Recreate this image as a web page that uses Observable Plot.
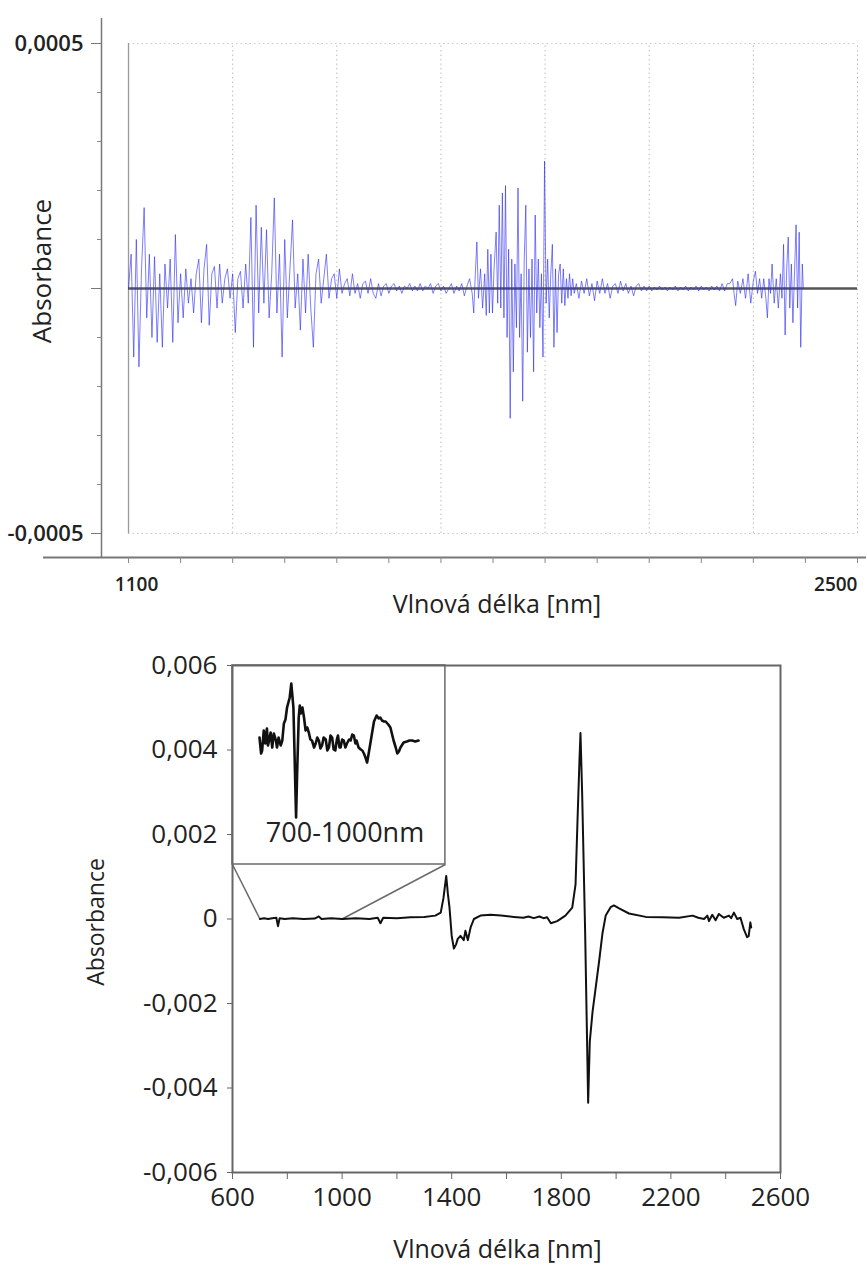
<!DOCTYPE html>
<html><head><meta charset="utf-8">
<script src="https://cdn.jsdelivr.net/npm/d3@7"></script>
<script src="https://cdn.jsdelivr.net/npm/@observablehq/plot@0.6"></script>
<style>
html,body{margin:0;padding:0;background:#fff;}
#wrap{position:relative;width:867px;height:1267px;overflow:hidden;background:#fff;}
#wrap svg{position:absolute;max-width:none;}
</style></head><body><div id="wrap"></div>
<script>
// ---------- TOP PANEL DATA: [wavelength nm, absorbance x1e-5] ----------
const topSpectrum = [
[1100,0],[1105,7],[1110,-14],[1115,10],[1120,-16],[1125,4],[1130,16.5],[1135,-6],[1140,7],[1145,-10],
[1150,6.5],[1155,-11],[1160,3],[1165,-12],[1170,5],[1175,-4],[1180,6],[1185,-11],[1190,11],[1195,-7],
[1200,3],[1205,-6],[1210,4],[1215,-3],[1220,2],[1225,-5],[1230,3],[1235,6],[1240,-7],[1245,4],
[1250,9],[1255,-7.5],[1260,3],[1265,4.5],[1270,-4],[1275,5],[1280,-3],[1285,2],[1290,4],[1295,-2],
[1300,3],[1305,-9],[1310,2],[1315,3.5],[1320,-4],[1325,5],[1330,-3],[1335,14.5],[1340,-12],[1345,17],
[1350,-5],[1355,12.5],[1360,-3],[1365,12],[1370,-6],[1375,3],[1380,18.5],[1385,-5],[1390,7],[1395,-14],
[1400,10],[1405,-6],[1410,4],[1415,14],[1420,-4],[1425,3],[1430,-8.5],[1435,6],[1440,-5],[1445,7],
[1450,-4],[1455,-12],[1460,3],[1465,6],[1470,-3],[1475,2],[1480,7],[1485,-2],[1490,2],[1495,3],
[1500,-2],[1505,4],[1510,-1],[1515,1],[1520,2],[1525,-1.5],[1530,3],[1535,-1],[1540,1],[1545,-2],
[1550,1],[1555,1.5],[1560,-1],[1565,2],[1570,-1],[1575,-2],[1580,1],[1585,-1.5],[1590,0.5],[1595,1],
[1600,-1],[1605,0.5],[1610,1],[1615,-0.5],[1620,0.5],[1625,-1],[1630,0.5],[1635,0],[1640,1],[1645,-0.5],
[1650,0.5],[1655,-0.5],[1660,1],[1665,-0.5],[1670,0.5],[1675,0],[1680,1],[1685,-1],[1690,0.5],[1695,1],
[1700,-0.5],[1705,0.5],[1710,-1],[1715,0],[1720,1],[1725,-1],[1730,0.5],[1735,-0.5],[1740,1],[1745,-1.5],
[1750,0.5],[1755,2],[1760,-1],[1763,-5],[1766,3],[1769,9.5],[1772,-2],[1776,4],[1780,-4],[1784,3],
[1787,-5.5],[1790,8],[1793,-5],[1796,7],[1799,-5],[1802,4],[1806,11.5],[1809,-3],[1812,17],[1815,-4],
[1818,19.5],[1821,-6],[1824,21],[1827,-10],[1830,8],[1833,-26.5],[1836,6],[1839,-17],[1842,5],[1845,-8],
[1848,20.5],[1851,-10],[1854,3],[1857,-23],[1860,6],[1863,17],[1866,-13],[1869,4],[1872,-10],[1875,6],
[1878,-17],[1881,15],[1884,-5],[1887,6],[1890,-8],[1893,3],[1896,-14],[1899,26],[1902,-3],[1905,6],
[1908,-6],[1911,3],[1914,9],[1917,-12],[1920,4],[1923,-9],[1926,3],[1929,5],[1932,-3],[1935,4],
[1938,-3.5],[1941,2],[1944,-2],[1947,3],[1950,-1.5],[1953,2],[1956,-1],[1960,1],[1965,-2],[1970,1.5],
[1975,-1],[1980,2],[1985,-1.5],[1990,1],[1995,-2.5],[2000,1.5],[2005,-1],[2010,2],[2015,-1],[2020,1],
[2025,-2],[2030,0.5],[2035,1],[2040,-1],[2045,1.5],[2050,-0.5],[2055,1],[2060,-1],[2065,0.5],[2070,-1.5],
[2075,0.5],[2080,1],[2085,-0.5],[2090,0.5],[2095,-0.5],[2100,0.5],[2105,-0.5],[2110,0.3],[2115,-0.3],[2120,0.5],
[2125,-0.3],[2130,0.3],[2135,-0.5],[2140,0.3],[2145,-0.3],[2150,0.5],[2155,-0.5],[2160,0.3],[2165,-0.3],[2170,0.5],
[2175,-0.5],[2180,0.3],[2185,-0.3],[2190,0.5],[2195,-0.5],[2200,0.5],[2205,-0.3],[2210,0.3],[2215,-0.5],[2220,0.5],
[2225,-0.3],[2230,0.5],[2235,-0.5],[2240,1],[2245,-0.5],[2250,1],[2255,1],[2260,2],[2263,-1],[2266,-3.5],
[2270,1.5],[2275,-1],[2280,2],[2285,-2],[2290,3],[2295,-3],[2300,1.5],[2304,3.5],[2308,-1],[2312,2],
[2316,-2],[2320,2],[2324,-2],[2327,-6],[2330,2],[2333,-1],[2336,5],[2340,-3],[2344,2],[2348,-4],
[2352,3],[2355,-2],[2358,9],[2361,-9.5],[2364,4],[2367,10.5],[2370,-4],[2373,5],[2376,-7],[2379,3],
[2382,13],[2385,-4],[2388,11.5],[2391,-12],[2394,5],[2396,0]
];
const topYMajor = [-0.0005, 0, 0.0005];
const topYMinor = [-0.0004, -0.0003, -0.0002, -0.0001, 0.0001, 0.0002, 0.0003, 0.0004];
const topXTicks = [1100,1200,1300,1400,1500,1600,1700,1800,1900,2000,2100,2200,2300,2400,2500];
const topXGrid = [1300,1500,1700,1900,2100,2300,2500];
const topXLabels = [1100, 2500];

// ---------- BOTTOM PANEL DATA: [wavelength nm, absorbance] ----------
const mainSpectrum = [
[700,0],[715,0.00002],[730,0],[745,0.00002],[760,0.00003],[766,-0.00017],[772,0.00002],[790,0],[820,0.00002],[860,0],
[900,0.00001],[915,0.00006],[925,0],[960,0.00002],[1000,0],[1050,0.00002],[1100,0],[1130,0.00003],[1140,-0.0001],[1150,0.00003],
[1200,0.00002],[1250,0.00004],[1300,0.00005],[1340,0.00008],[1360,0.00015],[1370,0.0005],[1380,0.00102],[1386,0.0006],[1392,0.00027],[1400,-0.0004],
[1408,-0.0007],[1416,-0.0006],[1422,-0.00047],[1432,-0.0004],[1444,-0.0005],[1450,-0.00028],[1459,-0.0005],[1469,-0.0002],[1481,0],[1505,0.00008],
[1542,0.0001],[1580,0.00008],[1627,0.00005],[1662,0.00003],[1680,0.00006],[1700,0.00002],[1720,0.00006],[1735,0.00002],[1748,0.00004],[1762,-0.0001],
[1785,-0.00005],[1815,0.00008],[1840,0.00027],[1852,0.00082],[1859,0.0023],[1866,0.0037],[1870,0.0044],[1876,0.003],[1880,0.0018],[1887,-0.0003],
[1893,-0.0025],[1898,-0.00435],[1904,-0.0029],[1914,-0.0022],[1926,-0.0016],[1938,-0.001],[1950,-0.00035],[1962,0.00008],[1980,0.00028],[1992,0.00032],
[2011,0.00025],[2047,0.00013],[2108,0.00005],[2170,0.00004],[2230,0.00003],[2279,0.00008],[2300,0.00003],[2321,0],[2333,0.00008],[2339,-0.00005],
[2351,0.0001],[2363,-0.00003],[2375,0.00012],[2393,0.00003],[2412,0.00008],[2420,0.00002],[2430,0.00015],[2442,0],[2454,0.00003],[2466,-0.00024],
[2478,-0.00043],[2484,-0.0004],[2490,-0.00008],[2493,-0.0002]
];
// inset 700-1000 nm, relative absorbance (x1e-4)
const insetSpectrum = [
[700,0.2],[703,-0.6],[705,-0.45],[708,0.55],[711,-0.1],[714,0.65],[716,-0.2],[718,0.05],[721,0.45],[724,-0.3],
[727,0.4],[731,0.05],[733,-0.3],[736,0.2],[740,-0.2],[743,0.05],[746,0.9],[749,1.1],[752,1.7],[757,2.2],
[760,2.9],[764,1.7],[767,-1.6],[769,-3.8],[771,-1.6],[774,1.2],[776,1.8],[778,1.4],[781,1.7],[784,1.2],
[787,0.55],[790,0.7],[793,0.45],[796,0.1],[799,0.05],[803,-0.3],[806,-0.1],[809,0.2],[812,0.05],[815,-0.35],
[818,-0.2],[821,0.2],[825,0.1],[828,-0.45],[831,-0.3],[834,0.3],[837,0.2],[840,-0.4],[843,-0.45],[846,0.1],
[848,0.3],[851,-0.3],[853,-0.3],[856,0.1],[859,0.05],[862,-0.3],[865,-0.1],[869,0.1],[872,0.05],[875,0.35],
[878,0.3],[881,-0.1],[883,0.05],[887,-0.3],[891,-0.4],[894,-0.45],[897,-0.6],[900,-0.8],[903,-1.05],[906,-0.6],
[911,0.2],[916,1.0],[921,1.3],[925,1.15],[928,1.2],[931,1.05],[935,1.0],[938,1.0],[943,0.85],[947,0.7],
[953,0.05],[957,-0.3],[960,-0.6],[963,-0.5],[966,-0.3],[972,-0.05],[978,0.0],[983,0.05],[988,0.05],[994,0.0],[1000,0.05]
];
const insetRange = [700, 1000];
const insetLabel = ["700-1000nm"];
const insetBox = [{x1: 600, x2: 1377, y1: 0.00129, y2: 0.006}];
const insetLinks = [{x1: 600, y1: 0.00129, x2: 700, y2: 0}, {x1: 1377, y1: 0.00129, x2: 1000, y2: 0}];
const bottomYTicks = [-0.006, -0.004, -0.002, 0, 0.002, 0.004, 0.006];
const bottomXLabels = [600, 1000, 1400, 1800, 2200, 2600];
const bottomXMinor = [800, 1200, 1600, 2000, 2400];
const xTitle = "Vlnová délka [nm]";
const yTitle = "Absorbance";

const wrap = document.getElementById("wrap");
const comma = (d, n) => d === 0 ? "0" : d.toFixed(n).replace(".", ",");

// ---------- TOP PANEL ----------
const topPlot = Plot.plot({
  width: 867, height: 625,
  marginLeft: 101, marginRight: 1, marginTop: 18, marginBottom: 68,
  x: {domain: [1048.1, 2517.3]},
  y: {domain: [-0.000549, 0.000551]},
  style: {fontFamily: "'Open Sans',sans-serif", background: "white", color: "#333"},
  marks: [
    Plot.ruleX(topXGrid, {y1: -0.0005, y2: 0.0005, stroke: "#bdbdbd", strokeDasharray: "1.5,3"}),
    Plot.ruleY([-0.0005, 0.0005], {x1: 1100, x2: 2500, stroke: "#c8c8c8", strokeDasharray: "1.5,3"}),
    Plot.ruleX([1100], {y1: -0.0005, y2: 0.0005, stroke: "#9a9a9a", strokeWidth: 1.3}),
    Plot.ruleY([0], {x1: 1100, x2: 2500, stroke: "#555", strokeWidth: 2.5}),
    Plot.line(topSpectrum, {x: d => d[0], y: d => d[1] * 1e-5, stroke: "#2a2af5", strokeWidth: 1, strokeOpacity: 0.6}),
    Plot.ruleX([1048.1], {stroke: "#777", strokeWidth: 1.5}),
    Plot.ruleY([-0.000549], {x1: 936.8, x2: 2517.3, stroke: "#777", strokeWidth: 2}),
    Plot.axisY({ticks: topYMajor, tickSize: 10, tickPadding: 8, tickFormat: d => d === 0 ? "" : comma(d, 4), stroke: "#777", fill: "#222", fontSize: 22, fontWeight: 600, label: null}),
    Plot.axisY({ticks: topYMinor, tickSize: 4, tickFormat: () => "", stroke: "#888", label: null}),
    Plot.axisX({ticks: topXTicks, tickSize: 6, tickFormat: () => "", stroke: "#888", label: null}),
    Plot.text(topXLabels.slice(0, 1), {x: d => d, text: d => String(d), frameAnchor: "bottom", dy: 33, dx: 8, fontSize: 19, fontWeight: 600, fill: "#222"}),
    Plot.text(topXLabels.slice(1), {x: d => d, text: d => String(d), frameAnchor: "bottom", dy: 33, textAnchor: "end", fontSize: 19, fontWeight: 600, fill: "#222"}),
    Plot.text([xTitle], {frameAnchor: "bottom", dx: 13, dy: 55, fontSize: 25, fill: "#222"}),
    Plot.text([yTitle], {frameAnchor: "left", textAnchor: "middle", dx: -59, dy: -17, rotate: -90, fontSize: 26, fill: "#222"})
  ]
});
topPlot.style.left = "0px"; topPlot.style.top = "0px";
wrap.appendChild(topPlot);

// ---------- BOTTOM PANEL ----------
const bottomPlot = Plot.plot({
  width: 867, height: 642,
  marginLeft: 232, marginRight: 87, marginTop: 40, marginBottom: 95,
  x: {domain: [600, 2600]},
  y: {domain: [-0.006, 0.006]},
  style: {fontFamily: "'Open Sans',sans-serif", background: "white", color: "#222"},
  marks: [
    Plot.rect(insetBox, {x1: "x1", x2: "x2", y1: "y1", y2: "y2", fill: "white", stroke: "#6a6a6a", strokeWidth: 1.5}),
    Plot.link(insetLinks, {x1: "x1", y1: "y1", x2: "x2", y2: "y2", stroke: "#6a6a6a", strokeWidth: 1.5}),
    Plot.line(mainSpectrum, {x: d => d[0], y: d => d[1], stroke: "#111", strokeWidth: 2}),
    Plot.frame({stroke: "#666", strokeWidth: 2}),
    Plot.axisY({ticks: bottomYTicks, tickSize: 5, tickPadding: 10, tickFormat: d => comma(d, 3), stroke: "#666", fill: "#222", fontSize: 26, label: null}),
    Plot.axisX({ticks: bottomXLabels, tickSize: 7, tickPadding: 8, tickFormat: d => String(d), stroke: "#666", fill: "#222", fontSize: 26, label: null}),
    Plot.axisX({ticks: bottomXMinor, tickSize: 7, tickFormat: () => "", stroke: "#666", label: null}),
    Plot.text([xTitle], {frameAnchor: "bottom", dx: -9, dy: 85, fontSize: 25, fill: "#222"}),
    Plot.text([yTitle], {frameAnchor: "left", textAnchor: "middle", dx: -136, dy: 3, rotate: -90, fontSize: 23, fill: "#222"})
  ]
});
bottomPlot.style.left = "0px"; bottomPlot.style.top = "625px";
wrap.appendChild(bottomPlot);

// ---------- INSET ----------
const insetPlot = Plot.plot({
  width: 213, height: 199,
  marginLeft: 27, marginRight: 27, marginTop: 0, marginBottom: 0,
  x: {domain: insetRange, axis: null},
  y: {domain: [-6.15, 3.8], axis: null},
  style: {fontFamily: "'Open Sans',sans-serif", background: "transparent", overflow: "visible"},
  marks: [
    Plot.line(insetSpectrum, {x: d => d[0], y: d => d[1], stroke: "#111", strokeWidth: 2.6}),
    Plot.text(insetLabel, {frameAnchor: "bottom", dx: 6, dy: -23, fontSize: 27, fill: "#222"})
  ]
});
insetPlot.style.left = "232px"; insetPlot.style.top = "665px";
wrap.appendChild(insetPlot);
</script></body></html>
